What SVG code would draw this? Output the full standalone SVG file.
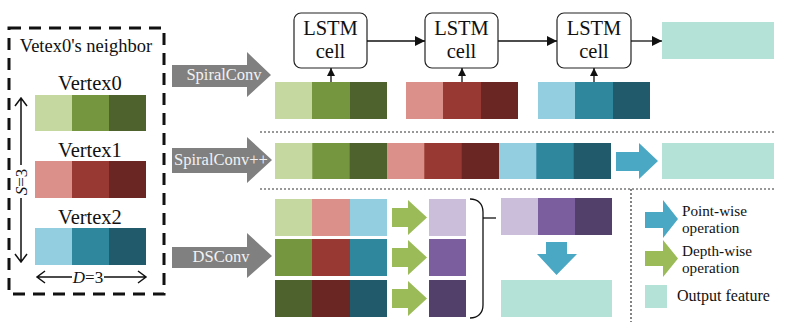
<svg xmlns="http://www.w3.org/2000/svg" width="786" height="328" viewBox="0 0 786 328">
<style>
text{font-family:"Liberation Serif","Times New Roman",serif;fill:#111}
.g1{fill:#c4d89f}.g2{fill:#76953f}.g3{fill:#4e622d}
.r1{fill:#dc908a}.r2{fill:#983a33}.r3{fill:#692623}
.b1{fill:#93cde0}.b2{fill:#2f879e}.b3{fill:#215b6b}
.p1{fill:#cbbedb}.p2{fill:#7b5e9d}.p3{fill:#523f6a}
.out{fill:#b4e2d7}
.gray{fill:#808080}
.gl{fill:#f2f2f2;font-size:16.5px;text-anchor:middle}
.lstm rect{fill:#fff;stroke:#222;stroke-width:1.2}
.lstm text{font-size:20.5px;text-anchor:middle}
.ln{stroke:#111;stroke-width:1.3;fill:none}
.dot{stroke:#333;stroke-width:1.2;stroke-dasharray:2 2;fill:none}
.chev{stroke:#111;stroke-width:1.5;fill:none}
.pw{fill:#4aa8c5}.dw{fill:#9bbb59}
.vl{font-size:20.5px;text-anchor:middle}
.lg{font-size:15.2px}
</style>
<defs>
<marker id="ah" viewBox="0 0 10 10" refX="10" refY="5" markerWidth="8" markerHeight="8" markerUnits="userSpaceOnUse" orient="auto"><path d="M0,0 L10,5 L0,10 Z" fill="#111"/></marker>
<marker id="ah2" viewBox="0 0 10 10" refX="10" refY="5" markerWidth="10" markerHeight="10" markerUnits="userSpaceOnUse" orient="auto"><path d="M0,0 L10,5 L0,10 Z" fill="#111"/></marker>
</defs>

<!-- Left panel -->
<g id="neighbor">
<rect x="9" y="28" width="155" height="266" fill="none" stroke="#111" stroke-width="3" stroke-dasharray="12 8"/>
<text x="86" y="52" style="font-size:18.5px" text-anchor="middle">Vetex0's neighbor</text>
<text class="vl" x="90" y="90">Vertex0</text>
<rect class="g1" x="35" y="95" width="37" height="36"/><rect class="g2" x="72" y="95" width="37" height="36"/><rect class="g3" x="109" y="95" width="37" height="36"/>
<text class="vl" x="90" y="157">Vertex1</text>
<rect class="r1" x="35" y="161" width="37" height="37"/><rect class="r2" x="72" y="161" width="37" height="37"/><rect class="r3" x="109" y="161" width="37" height="37"/>
<text class="vl" x="90" y="224">Vertex2</text>
<rect class="b1" x="35" y="228" width="37" height="37"/><rect class="b2" x="72" y="228" width="37" height="37"/><rect class="b3" x="109" y="228" width="37" height="37"/>
<path class="chev" d="M21,98 V165 M21,198 V262 M15,106 L21,98 L27,106 M15,254 L21,262 L27,254"/>
<text x="21" y="188" style="font-size:17px" text-anchor="middle" transform="rotate(-90 21 182)"><tspan font-style="italic">S</tspan>=3</text>
<path class="chev" d="M37,277 H72 M104,277 H146 M45,271 L37,277 L45,283 M138,271 L146,277 L138,283"/>
<text x="88" y="283" style="font-size:17px" text-anchor="middle"><tspan font-style="italic">D</tspan>=3</text>
</g>

<!-- Gray method arrows -->
<g id="spiralconv">
<path class="gray" d="M172,65 H247 V52 L271,75 L247,97 V87 H172 Z"/>
<text class="gl" x="224" y="80">SpiralConv</text>
</g>
<g id="spiralconvpp">
<path class="gray" d="M172,148 H247 V137 L272,160 L247,183 V173 H172 Z"/>
<text class="gl" x="221" y="165">SpiralConv++</text>
</g>
<g id="dsconv">
<path class="gray" d="M172,247 H247 V233 L272,256 L247,278 V268 H172 Z"/>
<text class="gl" x="221" y="262">DSConv</text>
</g>

<!-- Top row: LSTM -->
<g id="lstm1" class="lstm"><rect x="294" y="13" width="73" height="55" rx="7"/><text x="330.5" y="35">LSTM</text><text x="330.5" y="58">cell</text></g>
<g id="lstm2" class="lstm"><rect x="425" y="13" width="73" height="55" rx="7"/><text x="461.5" y="35">LSTM</text><text x="461.5" y="58">cell</text></g>
<g id="lstm3" class="lstm"><rect x="557" y="13" width="74" height="55" rx="7"/><text x="594" y="35">LSTM</text><text x="594" y="58">cell</text></g>
<g id="out-top"><rect class="out" x="662" y="22" width="112" height="37"/></g>
<g id="bar-green">
<rect class="g1" x="275" y="82" width="38" height="37"/><rect class="g2" x="312" y="82" width="38" height="37"/><rect class="g3" x="350" y="82" width="37" height="37"/>
</g>
<g id="bar-red">
<rect class="r1" x="406" y="82" width="38" height="37"/><rect class="r2" x="443" y="82" width="38" height="37"/><rect class="r3" x="481" y="82" width="37" height="37"/>
</g>
<g id="bar-blue">
<rect class="b1" x="538" y="82" width="38" height="37"/><rect class="b2" x="575" y="82" width="38" height="37"/><rect class="b3" x="613" y="82" width="37" height="37"/>
</g>

<!-- Middle row -->
<g id="bar-concat">
<rect class="g1" x="275" y="143" width="38" height="36"/><rect class="g2" x="312.3" y="143" width="38" height="36"/><rect class="g3" x="349.7" y="143" width="38" height="36"/>
<rect class="r1" x="387" y="143" width="38" height="36"/><rect class="r2" x="424.3" y="143" width="38" height="36"/><rect class="r3" x="461.7" y="143" width="38" height="36"/>
<rect class="b1" x="499" y="143" width="38" height="36"/><rect class="b2" x="536.3" y="143" width="38" height="36"/><rect class="b3" x="573.7" y="143" width="37.3" height="36"/>
</g>
<g id="pw-mid"><path class="pw" d="M616,152 H639 V143 L658,161 L639,179 V171 H616 Z"/></g>
<g id="out-mid"><rect class="out" x="662" y="143" width="112" height="36"/></g>

<!-- Bottom: DSConv -->
<g id="ds-grid">
<rect class="g1" x="275" y="199" width="38" height="37"/><rect class="r1" x="312" y="199" width="38" height="37"/><rect class="b1" x="350" y="199" width="37" height="37"/>
<rect class="g2" x="275" y="239" width="38" height="37"/><rect class="r2" x="312" y="239" width="38" height="37"/><rect class="b2" x="350" y="239" width="37" height="37"/>
<rect class="g3" x="275" y="280" width="38" height="37"/><rect class="r3" x="312" y="280" width="38" height="37"/><rect class="b3" x="350" y="280" width="37" height="37"/>
</g>
<g id="dw-arrows">
<path class="dw" d="M392,208 H408 V200 L427,217.5 L408,235 V227 H392 Z"/>
<path class="dw" d="M392,248 H408 V240 L427,257.5 L408,275 V267 H392 Z"/>
<path class="dw" d="M392,289 H408 V281 L427,298.5 L408,316 V308 H392 Z"/>
</g>
<g id="ds-purple">
<rect class="p1" x="429" y="199" width="37" height="37"/>
<rect class="p2" x="429" y="239" width="37" height="37"/>
<rect class="p3" x="429" y="280" width="37" height="37"/>
</g>
<g id="purple-bar">
<rect class="p1" x="501" y="198" width="38" height="37"/><rect class="p2" x="538" y="198" width="38" height="37"/><rect class="p3" x="575" y="198" width="37" height="37"/>
</g>
<g id="pw-down"><path class="pw" d="M546,242 H567 V254 H577 L556.5,275 L537,254 H546 Z"/></g>
<g id="out-bottom"><rect class="out" x="501" y="280" width="111" height="37"/></g>

<!-- Legend -->
<g id="legend-pw">
<path class="pw" d="M645,212 H663 V200 L678,219 L663,238 V228 H645 Z"/>
<text class="lg" x="682" y="216">Point-wise</text>
<text class="lg" x="682" y="233">operation</text>
</g>
<g id="legend-dw">
<path class="dw" d="M645,251 H663 V240 L678,258.5 L663,277 V266 H645 Z"/>
<text class="lg" x="682" y="256">Depth-wise</text>
<text class="lg" x="682" y="273">operation</text>
</g>
<g id="legend-out">
<rect class="out" x="645" y="285" width="22" height="23"/>
<text x="677" y="301" style="font-size:16px">Output feature</text>
</g>

<!-- Connectors -->
<g id="connectors">
<line class="ln" x1="367" y1="41" x2="425" y2="41" marker-end="url(#ah2)"/>
<line class="ln" x1="498" y1="41" x2="557" y2="41" marker-end="url(#ah2)"/>
<line class="ln" x1="631" y1="41" x2="662" y2="41" marker-end="url(#ah2)"/>
<line class="ln" x1="331" y1="82" x2="331" y2="68" marker-end="url(#ah)"/>
<line class="ln" x1="462" y1="82" x2="462" y2="68" marker-end="url(#ah)"/>
<line class="ln" x1="594" y1="82" x2="594" y2="68" marker-end="url(#ah)"/>
<line class="dot" x1="260" y1="132" x2="775" y2="132"/>
<line class="dot" x1="260" y1="189" x2="775" y2="189"/>
<line class="dot" x1="631" y1="189" x2="631" y2="322"/>
<path class="ln" d="M470,199 C478,199 483,204 483,212 V305 C483,313 478,318 470,318"/>
<line class="ln" x1="483" y1="218" x2="496" y2="218"/>
</g>
</svg>
